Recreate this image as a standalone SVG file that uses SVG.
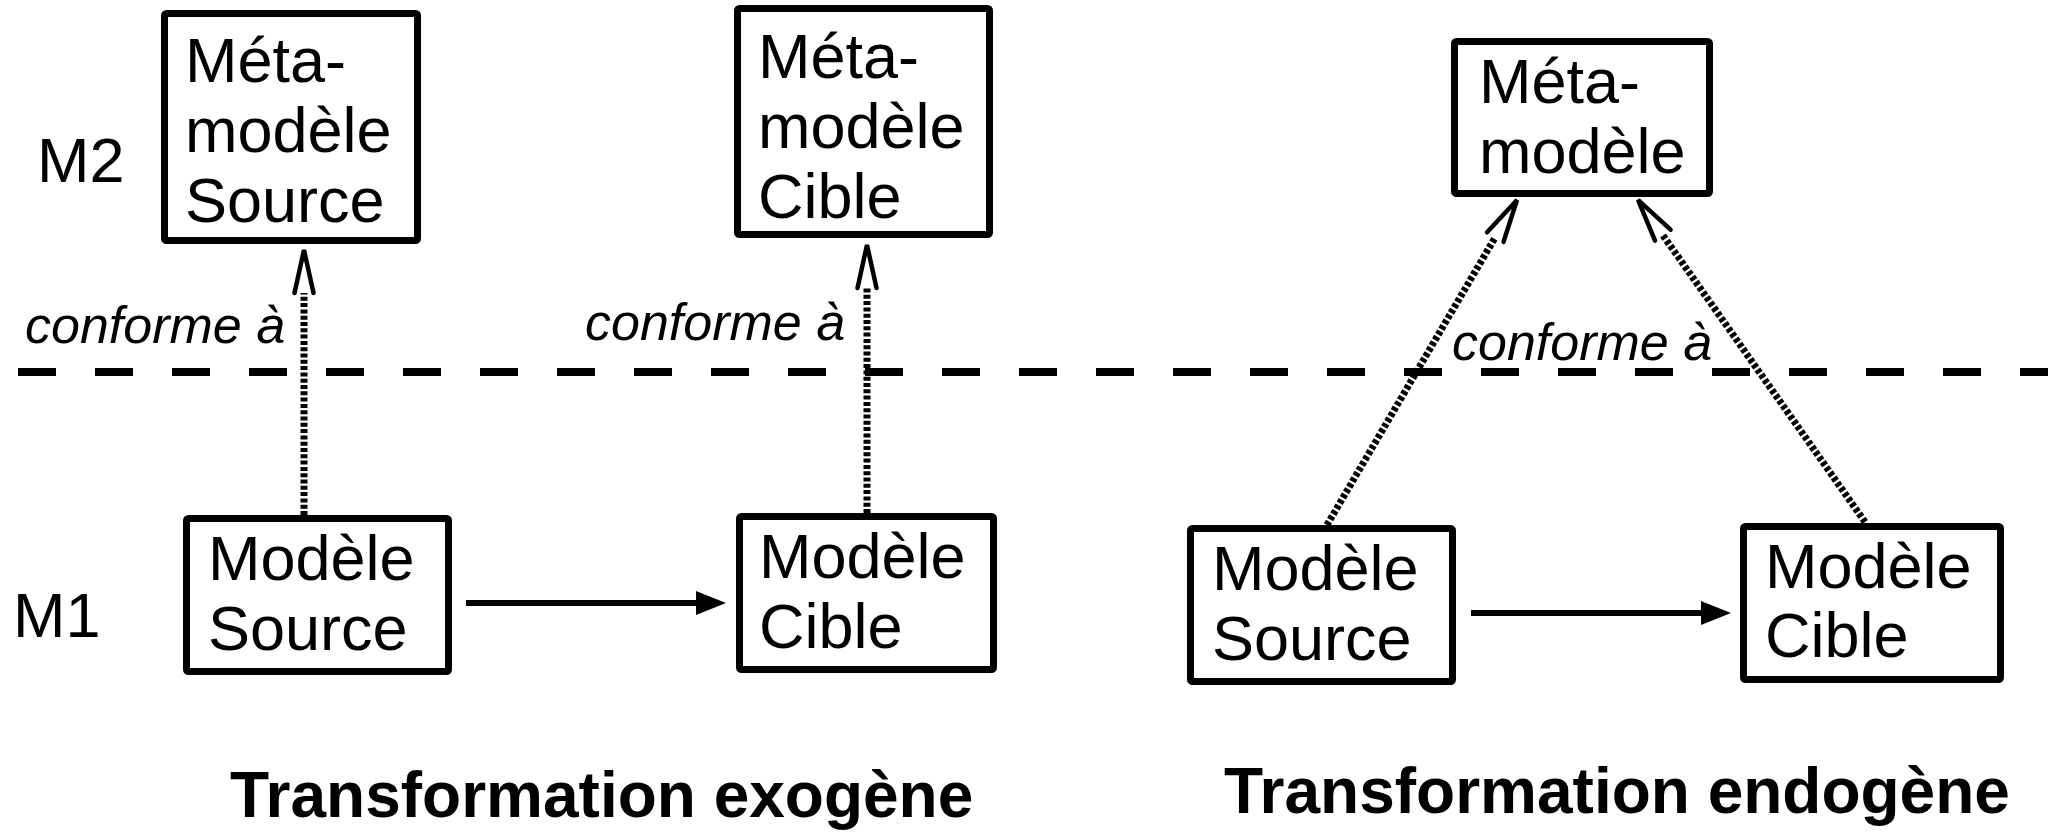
<svg xmlns="http://www.w3.org/2000/svg" width="2048" height="832" viewBox="0 0 2048 832">
  <style>
    .box { fill: #fff; stroke: #000; stroke-width: 7; }
    .lbl { font-family: "Liberation Sans", Arial, sans-serif; font-size: 63px; fill: #000; }
    .rel { font-family: "Liberation Sans", Arial, sans-serif; font-size: 52px; font-style: italic; fill: #000; }
    .title { font-family: "Liberation Sans", Arial, sans-serif; font-size: 64px; font-weight: bold; fill: #000; }
    .conf { fill: none; stroke: #000; stroke-width: 7; stroke-dasharray: 4 2.3; marker-end: url(#open); }
    .flow { fill: none; stroke: #000; stroke-width: 6; marker-end: url(#solid); }
    .level { fill: none; stroke: #000; stroke-width: 8; stroke-dasharray: 38 39; }
  </style>
  <defs>
    <marker id="open" markerUnits="userSpaceOnUse" markerWidth="50" markerHeight="30" refX="0" refY="15" orient="auto" overflow="visible">
      <path d="M0,5.5 L43,15 L0,24.5" fill="none" stroke="#000" stroke-width="4.5" stroke-linecap="round" stroke-linejoin="miter"/>
    </marker>
    <marker id="solid" markerUnits="userSpaceOnUse" markerWidth="30" markerHeight="24" refX="0" refY="12" orient="auto" overflow="visible">
      <path d="M0,0 L30,12 L0,24 Z" fill="#000"/>
    </marker>
  </defs>
  <rect width="2048" height="832" fill="#fff"/>

  <!-- level separator between M2 and M1 -->
  <line class="level" x1="18" y1="372" x2="2048" y2="372"/>

  <!-- level labels -->
  <text class="lbl" x="37" y="182">M2</text>
  <text class="lbl" x="13" y="637">M1</text>

  <!-- connectors -->
  <g id="connectors">
    <line class="conf" x1="304" y1="515" x2="304" y2="293"/>
    <line class="conf" x1="867" y1="513" x2="867" y2="288"/>
    <line class="conf" x1="1327" y1="525" x2="1495.3" y2="237.1"/>
    <line class="conf" x1="1865" y1="522" x2="1662.8" y2="235.1"/>
    <line class="flow" x1="466" y1="603" x2="696" y2="603"/>
    <line class="flow" x1="1471" y1="613" x2="1701" y2="613"/>
  </g>

  <!-- relation labels -->
  <text class="rel" x="25" y="343">conforme à</text>
  <text class="rel" x="585" y="340">conforme à</text>
  <text class="rel" x="1452" y="360">conforme à</text>

  <!-- exogenous transformation -->
  <g id="mm-source">
    <rect class="box" x="164.5" y="13.5" width="253" height="227" rx="2"/>
    <text class="lbl"><tspan x="185" y="82">Méta-</tspan><tspan x="185" y="152">modèle</tspan><tspan x="185" y="222">Source</tspan></text>
  </g>
  <g id="mm-cible">
    <rect class="box" x="737.5" y="8.5" width="252" height="226" rx="2"/>
    <text class="lbl"><tspan x="758" y="78">Méta-</tspan><tspan x="758" y="148">modèle</tspan><tspan x="758" y="218">Cible</tspan></text>
  </g>
  <g id="m-source-exo">
    <rect class="box" x="186.5" y="518.5" width="262" height="153" rx="2"/>
    <text class="lbl"><tspan x="208" y="580">Modèle</tspan><tspan x="208" y="650">Source</tspan></text>
  </g>
  <g id="m-cible-exo">
    <rect class="box" x="739.5" y="516.5" width="254" height="153" rx="2"/>
    <text class="lbl"><tspan x="759" y="578">Modèle</tspan><tspan x="759" y="648">Cible</tspan></text>
  </g>

  <!-- endogenous transformation -->
  <g id="mm-commun">
    <rect class="box" x="1454.5" y="41.5" width="255" height="152" rx="2"/>
    <text class="lbl"><tspan x="1479" y="103">Méta-</tspan><tspan x="1479" y="173">modèle</tspan></text>
  </g>
  <g id="m-source-endo">
    <rect class="box" x="1190.5" y="528.5" width="262" height="153" rx="2"/>
    <text class="lbl"><tspan x="1212" y="590">Modèle</tspan><tspan x="1212" y="660">Source</tspan></text>
  </g>
  <g id="m-cible-endo">
    <rect class="box" x="1743.5" y="526.5" width="257" height="153" rx="2"/>
    <text class="lbl"><tspan x="1765" y="588">Modèle</tspan><tspan x="1765" y="657">Cible</tspan></text>
  </g>

  <!-- captions -->
  <text class="title" x="230" y="817">Transformation exogène</text>
  <text class="title" x="1224" y="813">Transformation endogène</text>
</svg>
